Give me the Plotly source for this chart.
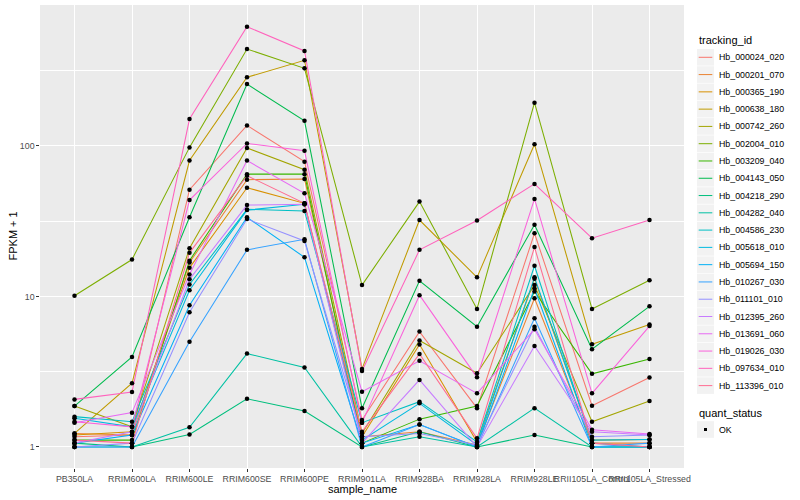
import plotly.graph_objects as go

samples = ["PB350LA", "RRIM600LA", "RRIM600LE", "RRIM600SE", "RRIM600PE", "RRIM901LA",
           "RRIM928BA", "RRIM928LA", "RRIM928LE", "RRII105LA_Control", "RRII105LA_Stressed"]

tracking_ids = ["Hb_000024_020", "Hb_000201_070", "Hb_000365_190", "Hb_000638_180", "Hb_000742_260",
                "Hb_002004_010", "Hb_003209_040", "Hb_004143_050", "Hb_004218_290", "Hb_004282_040",
                "Hb_004586_230", "Hb_005618_010", "Hb_005694_150", "Hb_010267_030", "Hb_011101_010",
                "Hb_012395_260", "Hb_013691_060", "Hb_019026_030", "Hb_097634_010", "Hb_113396_010"]

colors = ["#F8766D", "#EA8331", "#D89000", "#C09B00", "#A3A500", "#7CAE00", "#39B600", "#00BB4E",
          "#00BF7D", "#00C1A3", "#00BFC4", "#00BAE0", "#00B0F6", "#35A2FF", "#9590FF", "#C77CFF",
          "#E76BF3", "#FA62DB", "#FF62BC", "#FF6C91"]

quant_status = ["OK"]

# FPKM + 1 values, one list per tracking_id, in sample order
Hb_000024_020 = [1.17, 1.20, 51.2, 137, 78.7, 1.51, 5.84, 1.81, 26.3, 1.88, 2.89]
Hb_000201_070 = [1.23, 1.20, 16.8, 59.7, 60.4, 1.17, 1.26, 1.03, 9.73, 1.06, 1.06]
Hb_000365_190 = [1.20, 1.26, 15.5, 52.8, 41.6, 1.17, 4.80, 1.08, 13.1, 1.11, 1.12]
Hb_000638_180 = [1.23, 2.65, 80.0, 286, 371, 3.30, 32.2, 13.4, 102.6, 4.81, 6.50]
Hb_000742_260 = [1.87, 1.36, 20.9, 97.0, 69.6, 1.23, 5.10, 3.09, 11.9, 1.47, 2.02]
Hb_002004_010 = [10.1, 17.6, 97.9, 441, 328, 11.9, 42.7, 8.26, 194, 8.26, 12.8]
Hb_003209_040 = [1.11, 1.11, 17.3, 65.0, 65.0, 1.06, 1.53, 1.87, 10.8, 3.06, 3.84]
Hb_004143_050 = [1.87, 3.96, 33.6, 258, 147, 1.81, 12.7, 6.30, 30.0, 4.46, 8.60]
Hb_004218_290 = [1.06, 1.00, 1.21, 2.09, 1.73, 1.00, 1.26, 1.00, 1.20, 1.00, 1.00]
Hb_004282_040 = [1.00, 1.00, 1.35, 4.17, 3.37, 1.00, 1.17, 1.00, 1.81, 1.00, 1.00]
Hb_004586_230 = [1.59, 1.47, 12.0, 37.9, 37.0, 1.45, 2.00, 1.08, 16.0, 1.06, 1.00]
Hb_005618_010 = [1.55, 1.36, 11.0, 37.5, 41.0, 1.11, 1.95, 1.03, 13.4, 1.11, 1.12]
Hb_005694_150 = [1.06, 1.20, 8.74, 33.6, 18.2, 1.06, 1.41, 1.00, 11.3, 1.00, 1.00]
Hb_010267_030 = [1.00, 1.00, 5.00, 20.4, 24.0, 1.00, 1.41, 1.00, 7.16, 1.00, 1.06]
Hb_011101_010 = [1.00, 1.06, 7.85, 32.7, 23.4, 1.17, 1.23, 1.03, 6.30, 1.17, 1.20]
Hb_012395_260 = [1.06, 1.26, 13.0, 40.5, 41.0, 1.06, 2.79, 1.00, 4.69, 1.26, 1.20]
Hb_013691_060 = [1.45, 1.69, 14.0, 80.0, 48.5, 2.33, 3.74, 2.27, 6.05, 1.30, 1.22]
Hb_019026_030 = [1.47, 1.36, 43.7, 104, 93.0, 1.45, 10.2, 2.90, 44.5, 2.27, 6.36]
Hb_097634_010 = [2.07, 2.32, 151, 621, 428, 3.20, 20.4, 32.0, 56.0, 24.4, 32.2]
Hb_113396_010 = [1.11, 1.06, 19.5, 63.5, 41.6, 1.26, 4.15, 1.14, 21.3, 1.06, 1.00]

series = [Hb_000024_020, Hb_000201_070, Hb_000365_190, Hb_000638_180, Hb_000742_260,
          Hb_002004_010, Hb_003209_040, Hb_004143_050, Hb_004218_290, Hb_004282_040,
          Hb_004586_230, Hb_005618_010, Hb_005694_150, Hb_010267_030, Hb_011101_010,
          Hb_012395_260, Hb_013691_060, Hb_019026_030, Hb_097634_010, Hb_113396_010]

FONT = "Liberation Sans, Arial, Helvetica, sans-serif"
W, H = 800, 500
L, R, T, B = 40, 116, 5, 32
PW, PH = W - L - R, H - T - B


def px(xpix):
    return (xpix - L) / PW


def py(ypix):
    return (H - B - ypix) / PH


fig = go.Figure()
for name, vals, col in zip(tracking_ids, series, colors):
    fig.add_trace(go.Scatter(x=samples, y=vals, mode="lines", name=name, showlegend=False,
                             line=dict(color=col, width=1.05)))
for name, vals in zip(tracking_ids, series):
    fig.add_trace(go.Scatter(x=samples, y=vals, mode="markers", showlegend=False,
                             name=quant_status[0],
                             marker=dict(color="black", size=4.5, symbol="circle"),
                             hoverinfo="skip"))

# hand-built ggplot-style legends
shapes, annotations = [], []
annotations.append(dict(text="tracking_id", x=px(697), y=py(40.5), xref="paper", yref="paper",
                        xanchor="left", yanchor="middle", showarrow=False,
                        font=dict(size=11, color="black")))
step = 17.28
for i, (name, col) in enumerate(zip(tracking_ids, colors)):
    yc = 57.3 + step * i
    shapes.append(dict(type="rect", xref="paper", yref="paper", x0=px(697), x1=px(714),
                       y0=py(yc - 8.3), y1=py(yc + 8.3), fillcolor="#F2F2F2",
                       line=dict(width=0), layer="above"))
    shapes.append(dict(type="line", xref="paper", yref="paper", x0=px(698.7), x1=px(712.3),
                       y0=py(yc), y1=py(yc), line=dict(color=col, width=1), layer="above"))
    annotations.append(dict(text=name, x=px(716.5), y=py(yc), xref="paper", yref="paper",
                            xanchor="left", yanchor="middle", showarrow=False,
                            font=dict(size=8.8, color="black")))

annotations.append(dict(text="quant_status", x=px(697), y=py(412.7), xref="paper", yref="paper",
                        xanchor="left", yanchor="middle", showarrow=False,
                        font=dict(size=11, color="black")))
yok = 429.5
shapes.append(dict(type="rect", xref="paper", yref="paper", x0=px(697), x1=px(714),
                   y0=py(yok - 8.3), y1=py(yok + 8.3), fillcolor="#F2F2F2",
                   line=dict(width=0), layer="above"))
shapes.append(dict(type="rect", xref="paper", yref="paper", x0=px(704), x1=px(707),
                   y0=py(yok - 1.5), y1=py(yok + 1.5), fillcolor="black",
                   line=dict(width=0), layer="above"))
annotations.append(dict(text=quant_status[0], x=px(716.5), y=py(yok), xref="paper", yref="paper",
                        xanchor="left", yanchor="middle", showarrow=False,
                        font=dict(size=8.8, color="black")))

# axis titles
annotations.append(dict(text="sample_name", x=0.5, y=py(489), xref="paper", yref="paper",
                        xanchor="center", yanchor="middle", showarrow=False,
                        font=dict(size=11, color="black")))
annotations.append(dict(text="FPKM + 1", x=px(12), y=0.5, xref="paper", yref="paper",
                        xanchor="center", yanchor="middle", showarrow=False, textangle=-90,
                        font=dict(size=11, color="black")))

fig.update_layout(
    width=W, height=H,
    margin=dict(l=L, r=R, t=T, b=B, autoexpand=False),
    paper_bgcolor="white", plot_bgcolor="#EBEBEB",
    font=dict(family=FONT, size=11, color="black"),
    showlegend=False,
    shapes=shapes, annotations=annotations,
)
fig.update_xaxes(type="category", range=[-0.6, 10.6], showgrid=True, gridcolor="white",
                 gridwidth=1.1, zeroline=False, ticks="outside", ticklen=2.7, tickcolor="#333333",
                 tickwidth=1, tickangle=0, automargin=False,
                 tickfont=dict(size=8.8, color="#4D4D4D"), showline=False)
fig.update_yaxes(type="log", range=[-0.14, 2.937], tickvals=[1, 10, 100],
                 ticktext=["1", "10", "100"], showgrid=True, gridcolor="white", gridwidth=1.1,
                 zeroline=False, ticks="outside", ticklen=2.7, tickcolor="#333333", tickwidth=1,
                 automargin=False,
                 tickfont=dict(size=8.8, color="#4D4D4D"),
                 minor=dict(tickvals=[3.1623, 31.623, 316.23], showgrid=True,
                            gridcolor="white", gridwidth=0.5, ticks=""),
                 showline=False)

fig.write_html("out.html", config={"displayModeBar": False},
               post_script="document.body.style.margin='0px';document.body.style.overflow='hidden';")
